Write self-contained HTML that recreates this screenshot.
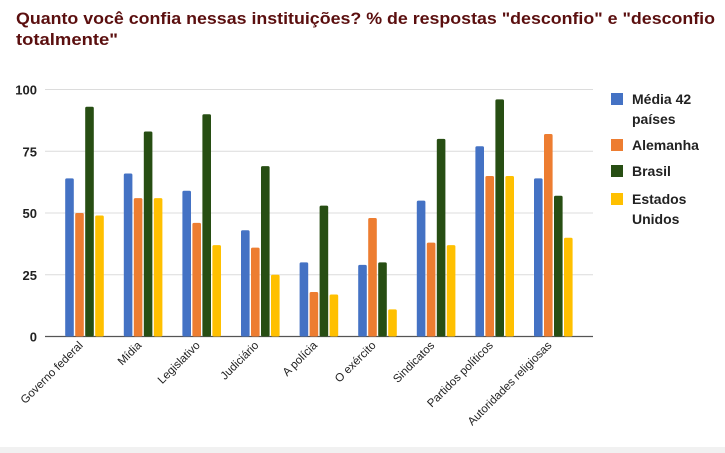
<!DOCTYPE html>
<html><head><meta charset="utf-8"><style>
body{margin:0;background:#fff;}
svg{display:block;font-family:"Liberation Sans",sans-serif;}
</style></head><body>
<svg id="chart" width="725" height="453" viewBox="0 0 725 453">
<rect x="0" y="0" width="725" height="453" fill="#fff"/>
<rect x="0" y="447" width="725" height="6" fill="#f1f1f1"/>
<text x="16" y="24" font-size="17" font-weight="bold" fill="#5b0f0f" textLength="699" lengthAdjust="spacingAndGlyphs">Quanto você confia nessas instituições? % de respostas "desconfio" e "desconfio</text>
<text x="16" y="45" font-size="17" font-weight="bold" fill="#5b0f0f" textLength="102" lengthAdjust="spacingAndGlyphs">totalmente"</text>
<g id="grid"></g>
<g id="bars"></g>
<g id="xlabels"></g>
<g id="legend"></g>
</svg>
<script>
const categories=["Governo federal","Mídia","Legislativo","Judiciário","A polícia","O exército","Sindicatos","Partidos políticos","Autoridades religiosas"];
const seriesNames=["Média 42 países","Alemanha","Brasil","Estados Unidos"];
const media42=[64,66,59,43,30,29,55,77,64];
const alemanha=[50,56,46,36,18,48,38,65,82];
const brasil=[93,83,90,69,53,30,80,96,57];
const eua=[49,56,37,25,17,11,37,65,40];
const yTicks=[0,25,50,75,100];
const colors=["#4472c4","#ed7d31","#274e13","#ffc000"];
const NS="http://www.w3.org/2000/svg";
const y0=336.5,y100=89.5,plotL=45,plotR=593;
function yScale(v){return y0-(y0-y100)*v/100;}
function xCenter(i){return 84.5+58.6*i;}
const grid=document.getElementById('grid');
yTicks.forEach(t=>{
  const l=document.createElementNS(NS,'line');
  
  
  l.setAttribute('x1',plotL);l.setAttribute('x2',plotR);
  l.setAttribute('y1',yScale(t));l.setAttribute('y2',yScale(t));
  l.setAttribute('stroke',t===0?'#555':'#dcdcdc');l.setAttribute('stroke-width',t===0?1.2:1);
  grid.appendChild(l);
  const tx=document.createElementNS(NS,'text');
  
  
  tx.setAttribute('x',37);tx.setAttribute('y',yScale(t)+5);
  tx.setAttribute('text-anchor','end');tx.setAttribute('font-size','13');tx.setAttribute('font-weight','bold');tx.setAttribute('fill','#222');
  tx.textContent=t;grid.appendChild(tx);
});
const all=[media42,alemanha,brasil,eua];
const bars=document.getElementById('bars');
const bw=8.6,pitch=10;
categories.forEach((c,i)=>{
  all.forEach((s,k)=>{
    const r=document.createElementNS(NS,'rect');
    
    
    const x=xCenter(i)-2*pitch+k*pitch+(pitch-bw)/2;
    r.setAttribute('x',x);r.setAttribute('width',bw);
    r.setAttribute('y',yScale(s[i]));r.setAttribute('height',y0-yScale(s[i]));
    r.setAttribute('rx',1.5);r.setAttribute('fill',colors[k]);
    bars.appendChild(r);
  });
  const t=document.createElementNS(NS,'text');
  
  
  const cx=xCenter(i)-1,cy=346;
  t.setAttribute('x',cx);t.setAttribute('y',cy);
  t.setAttribute('text-anchor','end');t.setAttribute('font-size','11.5');t.setAttribute('fill','#222');
  t.setAttribute('transform','rotate(-45 '+cx+' '+cy+')');
  t.textContent=c;
  document.getElementById('xlabels').appendChild(t);
});
const leg=document.getElementById('legend');
const legRows=[[99,["Média 42","países"]],[145,["Alemanha"]],[171,["Brasil"]],[199,["Estados","Unidos"]]];
legRows.forEach((r,k)=>{
  const sq=document.createElementNS(NS,'rect');
  
  
  sq.setAttribute('x',611);sq.setAttribute('y',r[0]-6);sq.setAttribute('width',12);sq.setAttribute('height',12);
  sq.setAttribute('fill',colors[k]);leg.appendChild(sq);
  r[1].forEach((ln,j)=>{
    const t=document.createElementNS(NS,'text');
    
    
    t.setAttribute('x',632);t.setAttribute('y',r[0]+5+j*20);
    t.setAttribute('font-size','14');t.setAttribute('font-weight','bold');t.setAttribute('fill','#222');
    t.textContent=ln;leg.appendChild(t);
  });
});
</script>
</body></html>
